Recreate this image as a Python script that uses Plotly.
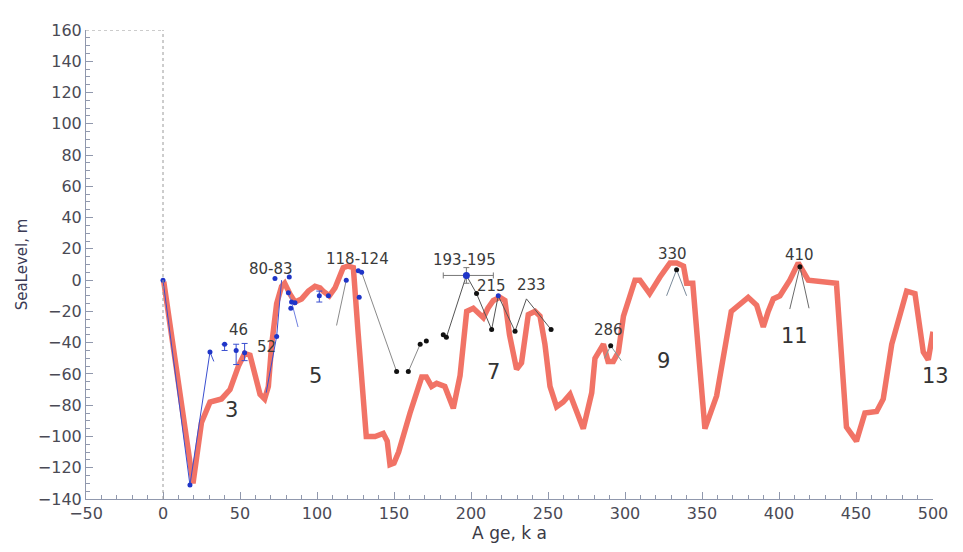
import plotly.graph_objects as go

# ---- data ----
curve_age = [0.5, 19.5, 25, 30.5, 38, 43.5, 49, 53, 56.5, 60, 63, 66, 68.4, 70.6, 73.8, 77, 79,
             82.5, 85.7, 90, 94.4, 98.7, 102, 104, 108, 111.7, 117, 120, 123.6, 126.8, 132,
             137.7, 143, 145.6, 147.4, 150, 153, 160.4, 168, 171, 174.4, 177.7, 183, 188.5,
             192.9, 197.2, 201.5, 208, 211, 214.5, 218.8, 222, 225, 229.6, 232.8, 237.2,
             241.6, 244.8, 248, 251.3, 255.6, 259.9, 264.3, 268.6, 272.9, 278.4, 280.5, 286,
             289, 292.4, 295.7, 299, 306.5, 309.7, 316, 322.7, 329.2, 333.6, 338, 340, 344,
             351.9, 359.5, 369, 374.7, 380, 385.5, 389.8, 393, 396.3, 400.6, 407, 412.5, 419,
             437.3, 443.8, 450.3, 455.8, 463.4, 467.7, 473.2, 482.9, 488.3, 493.7, 496.9, 500]
curve_level = [-1, -130, -91, -78, -76, -70, -55, -47, -48, -61, -73, -76, -68, -41, -15, -4, -2,
               -9, -14, -12, -7, -4, -5, -7, -10, -5, 8, 9, 8, -35, -100,
               -100, -98, -103, -118, -117, -110, -85, -62, -62, -68, -66, -68, -82,
               -61, -20, -18, -24, -18, -13, -11, -13, -35, -57, -53, -22,
               -20, -23, -41, -68, -81, -78, -73, -84, -95, -72, -50, -41,
               -52, -52, -46, -23, 0, 0, -8.6, 2, 11, 11, 9, -2, -2,
               -95, -74, -20, -15, -11, -16, -30, -20, -12, -10, 0, 11, 0,
               -2, -94, -103, -85, -84, -76, -41, -7, -8.6, -46, -51, -33]

blue_age = [0, 17.5, 30.5, 72.7, 82, 81.4, 83.5, 85.7, 83, 73.8, 107.4, 119, 126.8, 129, 127.4, 217.7]
blue_level = [0, -131, -46, 1, 2, -8, -14, -14.5, -18, -36, -10, 0, 6, 5, -11, -10]

blue_err_age = [40, 47.5, 53, 101.5]
blue_err_level = [-41, -45, -46.5, -10]
blue_err_plus = [0, 4, 6, 3]
blue_err_minus = [4, 9, 5, 4]

mis_age = [197]          # 193-195 ka point
mis_level = [3]
mis_age_minus = [15]
mis_age_plus = [17.5]
mis_level_err = [5]

black_age = [151.7, 159.3, 167, 171, 182, 184, 203.6, 213.4, 228.6, 252, 290.7, 333.5, 413.6]
black_level = [-58.5, -58.5, -41, -39, -35, -36.6, -8.6, -31.6, -32.7, -31.6, -42, 6.6, 8.6]

# thin connecting lines
links = [
    ([0, 17.5, 30.5, 33], [0, -131, -46, -52], "#3a4fd0"),
    ([67, 73.8, 77], [-72, -36, 0], "#3a4fd0"),
    ([81.4, 83.5, 87.7], [-8, -14, -30], "#6f7fe0"),
    ([112.7, 119], [-29, 0], "#8a8a8a"),
    ([129, 151.7], [5, -58.5], "#8a8a8a"),
    ([159.3, 167], [-58.5, -41], "#8a8a8a"),
    ([184, 197, 203.6, 213.4, 217.7, 228.6, 236, 252],
     [-36.6, 3, -8.6, -31.6, -10, -32.7, -12, -31.6], "#555555"),
    ([286.7, 290.7, 297.6], [-50, -42, -51.5], "#7a9a9a"),
    ([327, 333.5, 340], [-10, 6.6, -10], "#7a8a9a"),
    ([407, 413.6, 419.5], [-18.5, 8.6, -18], "#6a6a6a"),
]

peak_labels = ["46", "52", "80-83", "118-124", "193-195", "215", "233", "286", "330", "410"]
peak_x = [49, 67, 70, 126.6, 196, 213, 239.6, 289.6, 331, 413.6]
peak_y = [-31.6, -43, 7, 13.5, 13, -4, -3.3, -31.6, 17, 16]

stage_labels = ["3", "5", "7", "9", "11", "13"]
stage_x = [43.5, 98, 213.6, 324, 409, 500]
stage_y = [-83, -61, -59, -52, -35.5, -61]

FONT = "DejaVu Sans"

fig = go.Figure()

fig.add_trace(go.Scatter(x=curve_age, y=curve_level, mode="lines",
                         line=dict(color="rgba(240,100,85,0.9)", width=5.5),
                         hoverinfo="skip", showlegend=False))

for xs, ys, col in links:
    fig.add_trace(go.Scatter(x=xs, y=ys, mode="lines", line=dict(color=col, width=1),
                             hoverinfo="skip", showlegend=False))

fig.add_trace(go.Scatter(x=blue_age, y=blue_level, mode="markers",
                         marker=dict(color="#1f35c8", size=5), showlegend=False))
fig.add_trace(go.Scatter(x=blue_err_age, y=blue_err_level, mode="markers",
                         marker=dict(color="#1f35c8", size=5),
                         error_y=dict(type="data", array=blue_err_plus, arrayminus=blue_err_minus,
                                      color="#3a4fd0", thickness=1, width=3),
                         showlegend=False))
fig.add_trace(go.Scatter(x=mis_age, y=mis_level, mode="markers",
                         marker=dict(color="#1f35c8", size=7),
                         error_x=dict(type="data", array=mis_age_plus, arrayminus=mis_age_minus,
                                      color="#777777", thickness=1, width=3),
                         error_y=dict(type="data", array=mis_level_err,
                                      color="#777777", thickness=1, width=3),
                         showlegend=False))
fig.add_trace(go.Scatter(x=black_age, y=black_level, mode="markers",
                         marker=dict(color="#111111", size=5), showlegend=False))

for t, x, y in zip(peak_labels, peak_x, peak_y):
    fig.add_annotation(x=x, y=y, text=t, showarrow=False,
                       font=dict(family=FONT, size=15, color="#3a3a3a"))
for t, x, y in zip(stage_labels, stage_x, stage_y):
    fig.add_annotation(x=x, y=y, text=t, showarrow=False, xshift=2,
                       font=dict(family=FONT, size=21, color="#333333"))

# frame pieces: dotted x=0 reference and top edge of left box
fig.add_shape(type="line", x0=0, x1=0, y0=-140, y1=160, xref="x", yref="y",
              line=dict(color="#9a9a9a", width=1, dash="dot"))
fig.add_shape(type="line", x0=-50, x1=0, y0=160, y1=160, xref="x", yref="y",
              line=dict(color="#9a9a9a", width=1, dash="dot"))

axcol = "#9098ad"
fig.update_layout(
    width=963, height=552,
    margin=dict(l=86, r=30, t=30, b=53),
    paper_bgcolor="white", plot_bgcolor="white",
    font=dict(family=FONT, color="#4a4a55"),
    xaxis=dict(range=[-50, 500], tickvals=[-50, 0, 50, 100, 150, 200, 250, 300, 350, 400, 450, 500],
               showgrid=False, zeroline=False, showline=True, linecolor=axcol, linewidth=1,
               ticks="inside", ticklen=7, tickcolor=axcol,
               minor=dict(dtick=10, ticks="inside", ticklen=4, tickcolor=axcol),
               tickfont=dict(size=16, color="#4a4a55"),
               title=dict(text="A ge, k a", font=dict(size=17, color="#3a3a45"), standoff=4)),
    yaxis=dict(range=[-140, 160], tickvals=list(range(-140, 161, 20)),
               showgrid=False, zeroline=False, showline=True, linecolor=axcol, linewidth=1,
               ticks="inside", ticklen=7, tickcolor=axcol,
               minor=dict(dtick=5, ticks="inside", ticklen=4, tickcolor=axcol),
               tickfont=dict(size=16, color="#4a4a55"),
               title=dict(text="SeaLevel, m", font=dict(size=15, color="#3a3a55"), standoff=6)),
)

fig.write_html("out.html")
